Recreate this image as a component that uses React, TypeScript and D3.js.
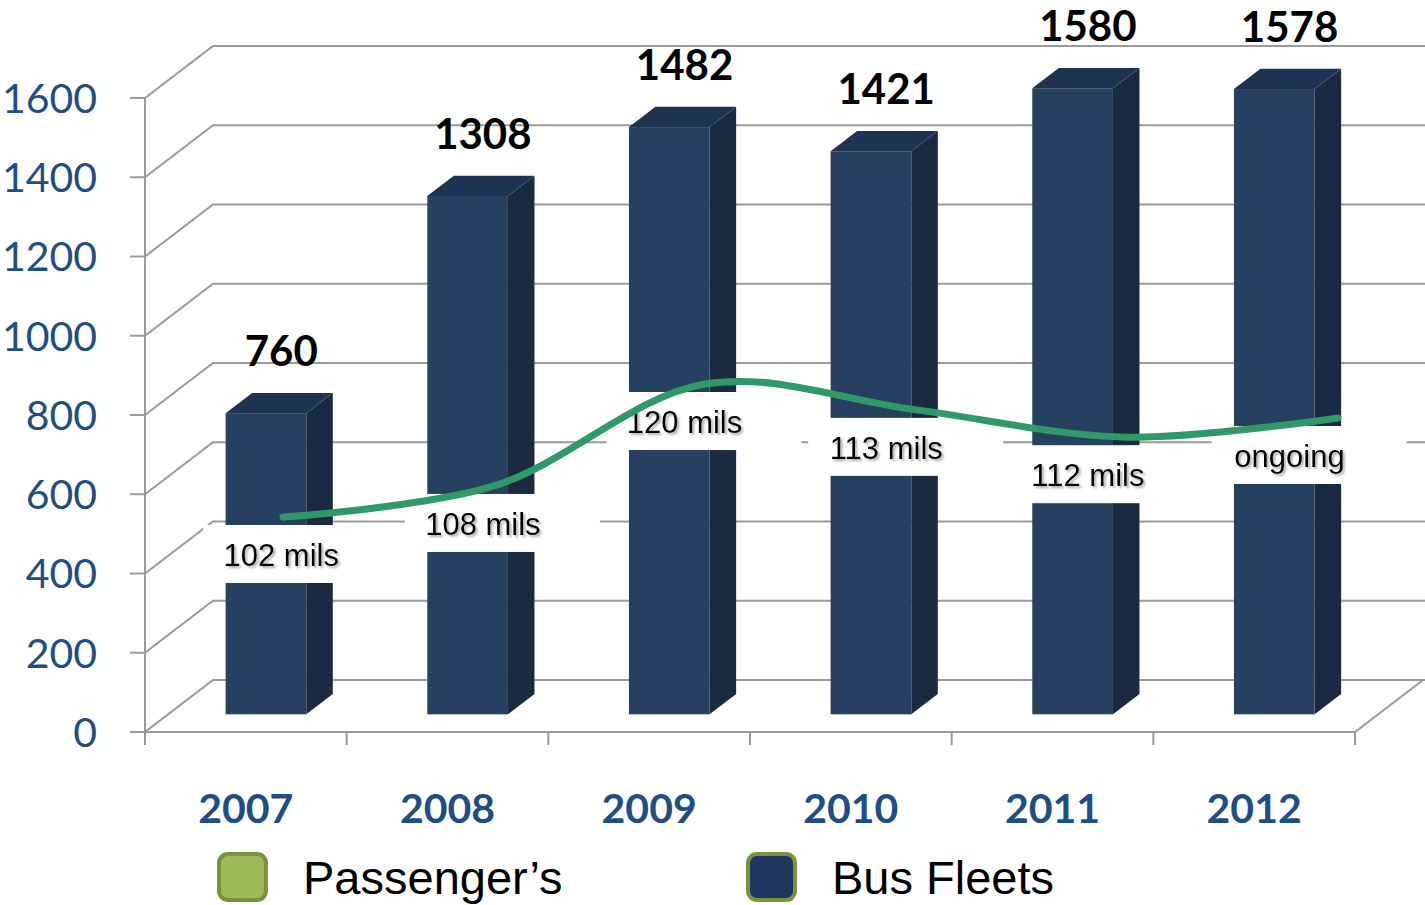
import { useEffect, useRef } from "react";
import * as d3 from "d3";

// chart data
const YEARS = ["2007", "2008", "2009", "2010", "2011", "2012"];
const BUS_FLEETS = [760, 1308, 1482, 1421, 1580, 1578];
// passenger line, plotted on its own hidden secondary axis
const PASSENGER_PLOT = [102, 106.2, 120, 116.5, 112.8, 115.4];
const PASSENGER_LABELS = ["102 mils", "108 mils", "120 mils", "113 mils", "112 mils", "ongoing"];
const Y_TICKS = [0, 200, 400, 600, 800, 1000, 1200, 1400, 1600];

const W = 1425;
const H = 905;
const AXIS_BLUE = "#1f4e85";
const GRID = "#9a9a9a";
const BAR_FRONT = "#26405f";
const BAR_SIDE = "#1a2a41";
const BAR_TOP = "#1e3352";
const LINE_GREEN = "#2f9a67";

// 3D depth vector (full depth of the floor)
const DEPTH_X = 68;
const DEPTH_Y = -52;
const BAR_D0 = 0.34;
const BAR_D1 = 0.73;
const BAR_SHIFT = -3;

export default function App() {
  const svgRef = useRef<SVGSVGElement | null>(null);

  useEffect(() => {
    document.body.style.margin = "0";
    const svg = d3.select(svgRef.current);
    svg.selectAll("*").remove();

    const defs = svg.append("defs");
    const f = defs
      .append("filter")
      .attr("id", "tshadow")
      .attr("x", "-10%")
      .attr("y", "-20%")
      .attr("width", "130%")
      .attr("height", "150%");
    f.append("feDropShadow")
      .attr("dx", 2)
      .attr("dy", 2)
      .attr("stdDeviation", 1.3)
      .attr("flood-color", "#777")
      .attr("flood-opacity", 0.6);

    const x = d3.scaleBand<string>().domain(YEARS).range([145, 1355]).padding(0);
    const y = d3.scaleLinear().domain([0, 1600]).range([732, 98]);
    const xLine = d3.scalePoint<string>().domain(YEARS).range([283, 1338]);
    const yLine = d3.scaleLinear().domain([102, 120]).range([517, 384]);

    const bw = x.bandwidth();
    const barW = bw * 0.4;
    const x0 = 145;
    const xEnd = 1355;

    // back wall gridlines + left wall diagonals
    const grid = svg.append("g").attr("fill", "none").attr("stroke", GRID).attr("stroke-width", 2);
    Y_TICKS.forEach((v) => {
      const yf = y(v);
      grid
        .append("path")
        .attr("d", `M${x0},${yf}L${x0 + DEPTH_X},${yf + DEPTH_Y}L${W},${yf + DEPTH_Y}`);
      grid.append("line").attr("x1", x0 - 15).attr("x2", x0).attr("y1", yf).attr("y2", yf);
    });
    // floor front edge + right edge
    grid
      .append("path")
      .attr("d", `M${x0 - 15},${y(0)}L${xEnd},${y(0)}L${xEnd + DEPTH_X},${y(0) + DEPTH_Y}`);
    grid.append("line").attr("x1", x0).attr("x2", x0).attr("y1", y(1600)).attr("y2", y(0) + 13);
    YEARS.forEach((yr) => {
      const xx = (x(yr) ?? 0) + bw;
      grid.append("line").attr("x1", xx).attr("x2", xx).attr("y1", y(0)).attr("y2", y(0) + 13);
    });

    // y tick labels
    svg
      .append("g")
      .selectAll("text")
      .data(Y_TICKS)
      .join("text")
      .attr("x", 97)
      .attr("y", (d) => y(d))
      .attr("dy", "0.36em")
      .attr("text-anchor", "end")
      .attr("font-family", "Lato, 'Open Sans', sans-serif")
      .attr("font-size", 41)
      .attr("fill", AXIS_BLUE)
      .text((d) => d);

    // bars
    const bars = svg.append("g");
    YEARS.forEach((yr, i) => {
      const v = BUS_FLEETS[i];
      const cx = (x(yr) ?? 0) + bw / 2 + BAR_SHIFT;
      const l0 = cx - barW / 2 + DEPTH_X * BAR_D0;
      const r0 = cx + barW / 2 + DEPTH_X * BAR_D0;
      const l1 = cx - barW / 2 + DEPTH_X * BAR_D1;
      const r1 = cx + barW / 2 + DEPTH_X * BAR_D1;
      const b0 = y(0) + DEPTH_Y * BAR_D0;
      const b1 = y(0) + DEPTH_Y * BAR_D1;
      const t0 = y(v) + DEPTH_Y * BAR_D0;
      const t1 = y(v) + DEPTH_Y * BAR_D1;
      bars.append("path").attr("d", `M${r0},${t0}L${r1},${t1}L${r1},${b1}L${r0},${b0}Z`).attr("fill", BAR_SIDE);
      bars.append("path").attr("d", `M${l0},${t0}L${l1},${t1}L${r1},${t1}L${r0},${t0}Z`).attr("fill", BAR_TOP);
      bars
        .append("rect")
        .attr("x", l0)
        .attr("y", t0)
        .attr("width", barW)
        .attr("height", b0 - t0)
        .attr("fill", BAR_FRONT);
      // value label
      svg
        .append("text")
        .attr("x", (l0 + r1) / 2 + 2)
        .attr("y", t1 - 42)
        .attr("dy", "0.36em")
        .attr("text-anchor", "middle")
        .attr("font-family", "Lato, 'Open Sans', sans-serif")
        .attr("font-weight", 700)
        .attr("font-size", 42)
        .attr("fill", "#000")
        .text(v);
    });

    // passenger label boxes (white, cover bars/grid)
    const labels = svg.append("g");
    const labelPos = (yr: string, i: number) => ({
      cx: (x(yr) ?? 0) + bw / 2 + BAR_SHIFT + (DEPTH_X * (BAR_D0 + BAR_D1)) / 2 + 2,
      cy: yLine(PASSENGER_PLOT[i]) + 38,
    });
    YEARS.forEach((yr, i) => {
      const { cx, cy } = labelPos(yr, i);
      labels
        .append("rect")
        .attr("x", cx - 78)
        .attr("y", cy - 30)
        .attr("width", 195)
        .attr("height", 58)
        .attr("fill", "#fff");
    });
    YEARS.forEach((yr, i) => {
      const { cx, cy } = labelPos(yr, i);
      labels
        .append("text")
        .attr("x", cx)
        .attr("y", cy)
        .attr("dy", "0.36em")
        .attr("text-anchor", "middle")
        .attr("font-family", "'Liberation Sans', Arial, sans-serif")
        .attr("font-size", 31)
        .attr("fill", "#000")
        .attr("filter", "url(#tshadow)")
        .text(PASSENGER_LABELS[i]);
    });

    // passenger line
    const line = d3
      .line<number>()
      .x((_, i) => xLine(YEARS[i]) ?? 0)
      .y((d) => yLine(d))
      .curve(d3.curveCatmullRom.alpha(0.5));
    svg
      .append("path")
      .attr("d", line(PASSENGER_PLOT))
      .attr("fill", "none")
      .attr("stroke", LINE_GREEN)
      .attr("stroke-width", 7)
      .attr("stroke-linecap", "round");

    // category labels
    svg
      .append("g")
      .selectAll("text")
      .data(YEARS)
      .join("text")
      .attr("x", (d) => (x(d) ?? 0) + bw / 2)
      .attr("y", 808)
      .attr("dy", "0.36em")
      .attr("text-anchor", "middle")
      .attr("font-family", "Lato, 'Open Sans', sans-serif")
      .attr("font-weight", 700)
      .attr("font-size", 41)
      .attr("fill", AXIS_BLUE)
      .text((d) => d);

    // legend
    const legend = [
      { name: "Passenger’s", fill: "#9bbb59", x: 219 },
      { name: "Bus Fleets", fill: "#1f3760", x: 748 },
    ];
    const lg = svg.append("g");
    legend.forEach((d) => {
      lg.append("rect")
        .attr("x", d.x)
        .attr("y", 854)
        .attr("width", 47)
        .attr("height", 46)
        .attr("rx", 9)
        .attr("fill", d.fill)
        .attr("stroke", "#77933c")
        .attr("stroke-width", 4);
      lg.append("text")
        .attr("x", d.x + 84)
        .attr("y", 894)
        .attr("font-family", "'Liberation Sans', Arial, sans-serif")
        .attr("font-size", 47)
        .attr("fill", "#000")
        .text(d.name);
    });
  }, []);

  return (
    <svg
      ref={svgRef}
      width={W}
      height={H}
      viewBox={`0 0 ${W} ${H}`}
      style={{ display: "block", background: "#fff" }}
    />
  );
}
